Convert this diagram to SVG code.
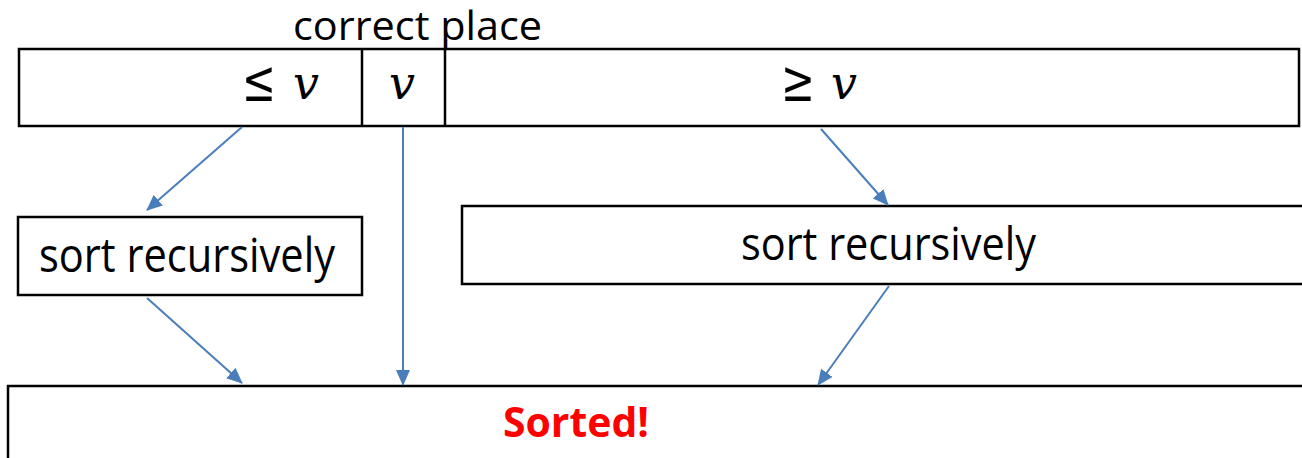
<svg xmlns="http://www.w3.org/2000/svg" width="1302" height="458" viewBox="0 0 1302 458">
  <style>
    .box { fill: #ffffff; stroke: #000000; stroke-width: 2.5; }
    .label { font-family: "Open Sans", "Liberation Sans", sans-serif; fill: #000000; }
    .math { font-family: "DejaVu Serif", "Liberation Serif", serif; fill: #000000; }
    .mv { font-style: italic; }
    .edge { fill: none; stroke: #4A7EBB; stroke-width: 2; marker-end: url(#head); }
    .done { font-family: "Open Sans", "Liberation Sans", sans-serif; font-weight: bold; fill: #FF0000; }
  </style>
  <defs>
    <marker id="head" markerUnits="userSpaceOnUse" markerWidth="16" markerHeight="14" refX="15" refY="7" orient="auto">
      <path d="M0,0 L16,7 L0,14 z" fill="#4A7EBB"/>
    </marker>
  </defs>
  <rect width="1302" height="458" fill="#ffffff"/>

  <!-- partitioned array -->
  <g id="array">
    <text class="label" x="293" y="40" font-size="40" textLength="249" lengthAdjust="spacingAndGlyphs">correct place</text>
    <rect class="box" x="19" y="49" width="1280" height="77"/>
    <line x1="362" y1="49" x2="362" y2="126" stroke="#000" stroke-width="2.5"/>
    <line x1="445" y1="49" x2="445" y2="126" stroke="#000" stroke-width="2.5"/>
    <text class="math" x="242" y="101" font-size="58" textLength="34" lengthAdjust="spacingAndGlyphs">≤</text>
    <text class="math mv" x="293" y="99" font-size="46">v</text>
    <text class="math mv" x="389" y="99" font-size="46">v</text>
    <text class="math" x="781" y="101" font-size="58" textLength="34" lengthAdjust="spacingAndGlyphs">≥</text>
    <text class="math mv" x="831" y="99" font-size="46">v</text>
  </g>

  <!-- left recursion -->
  <g id="sort-left">
    <rect class="box" x="18" y="217" width="344" height="78"/>
    <text class="label" x="39" y="272" font-size="47" textLength="296" lengthAdjust="spacingAndGlyphs">sort recursively</text>
  </g>

  <!-- right recursion -->
  <g id="sort-right">
    <rect class="box" x="462" y="206" width="860" height="78"/>
    <text class="label" x="741" y="260" font-size="45" textLength="295" lengthAdjust="spacingAndGlyphs">sort recursively</text>
  </g>

  <!-- result -->
  <g id="sorted">
    <rect class="box" x="8" y="386" width="1320" height="100"/>
    <text class="done" x="503" y="437" font-size="41" textLength="146" lengthAdjust="spacingAndGlyphs">Sorted!</text>
  </g>

  <!-- connectors -->
  <g id="edges">
    <line class="edge" x1="242" y1="127" x2="147" y2="210"/>
    <line class="edge" x1="403" y1="127" x2="403" y2="385"/>
    <line class="edge" x1="147" y1="298" x2="242" y2="383"/>
    <line class="edge" x1="821" y1="129" x2="888" y2="205"/>
    <line class="edge" x1="889" y1="286" x2="818" y2="385"/>
  </g>
</svg>
